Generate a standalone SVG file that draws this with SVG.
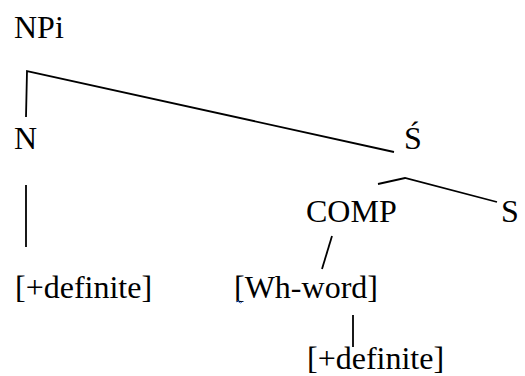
<svg xmlns="http://www.w3.org/2000/svg" width="525" height="376" viewBox="0 0 525 376">
<style>
text{font-family:"Liberation Serif","Times New Roman",serif;font-size:32px;fill:#000}
.e{stroke:#000;stroke-width:1.8;fill:none}
</style>
<rect width="525" height="376" fill="#fff"/>
<g id="connectors">
<polyline class="e" points="26,117 27,71 394,152"/>
<polyline class="e" points="378,184 405,178 497,202"/>
<line class="e" x1="26" y1="185" x2="26" y2="247"/>
<line class="e" x1="332" y1="236" x2="322" y2="269"/>
<line class="e" x1="353" y1="315" x2="353" y2="347"/>
</g>
<g id="NPi"><text x="14" y="38">NPi</text></g>
<g id="N"><text x="14" y="149">N</text></g>
<g id="Sbar"><text x="404" y="149">Ś</text></g>
<g id="COMP"><text x="306" y="222">COMP</text></g>
<g id="S"><text x="501" y="222">S</text></g>
<g id="def1"><text x="15" y="298">[+definite]</text></g>
<g id="wh"><text x="234" y="298">[Wh-word]</text>
<path d="M236,302 q1.5,-2 3,0 t3,0" stroke="#3a6fd8" stroke-width="1" fill="none"/></g>
<g id="def2"><text x="307" y="369">[+definite]</text></g>
</svg>
